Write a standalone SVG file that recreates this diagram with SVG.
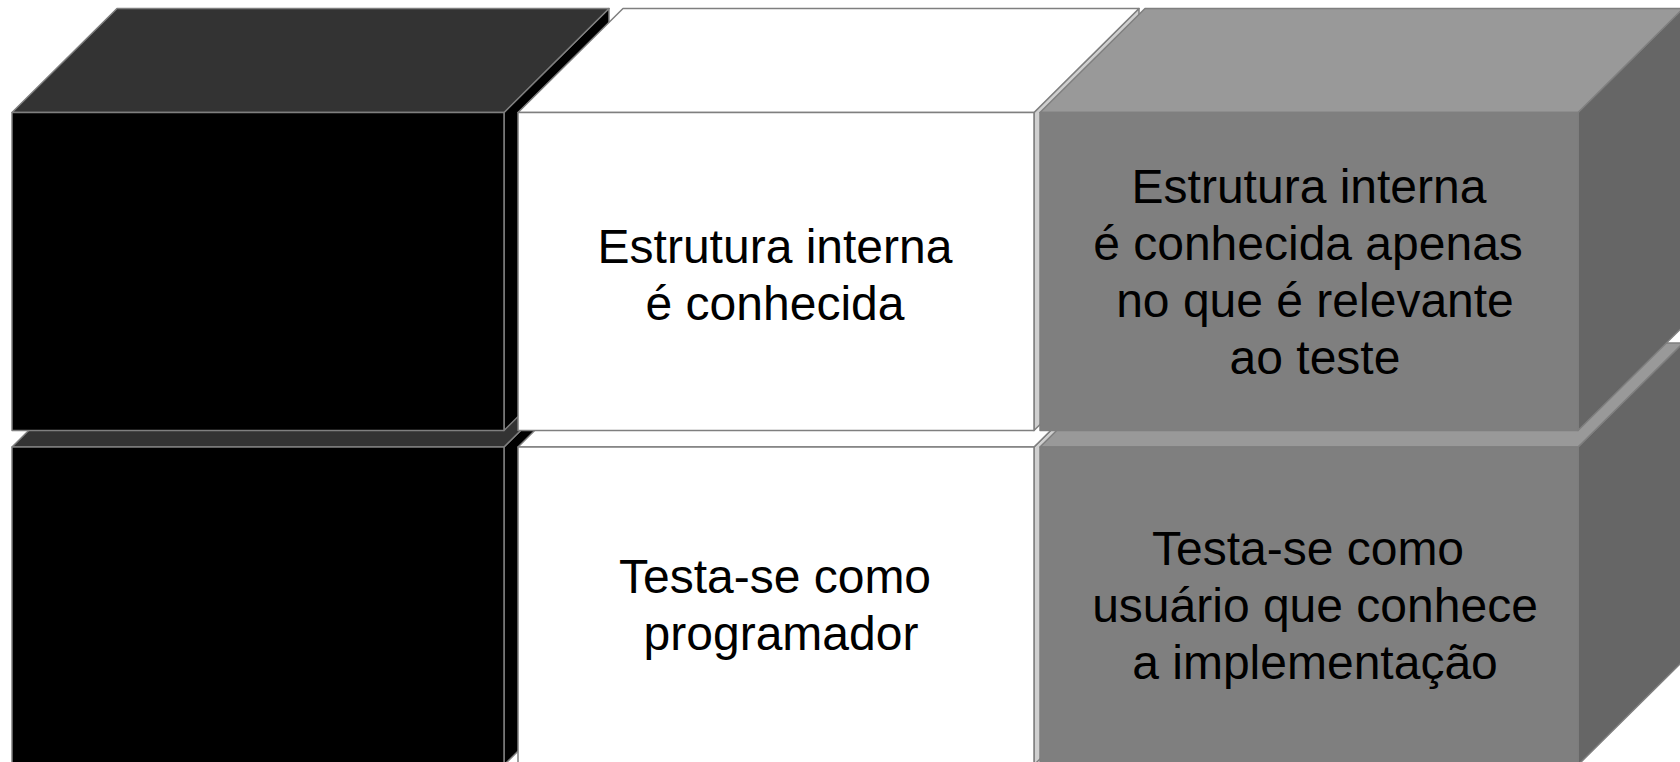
<svg xmlns="http://www.w3.org/2000/svg" width="1680" height="762" viewBox="0 0 1680 762">
<style>
.e{stroke:#7f7f7f;stroke-width:1.5;stroke-linejoin:round}
.bf{fill:#000}.bt{fill:#333}.bs{fill:#000}
.wf{fill:#fff}.wt{fill:#fff}.ws{fill:#cfcfcf}
.gf{fill:#7f7f7f}.gt{fill:#999}.gs{fill:#666}
text{font-family:"Liberation Sans",Arial,sans-serif;fill:#000;text-anchor:middle;font-size:48px}
</style>
<rect width="1680" height="762" fill="#fff"/>
<!-- Row 2 (drawn first, behind) -->
<g id="black-bottom">
<polygon class="e bs" points="504,447 609,343 609,661 504,765"/>
<polygon class="e bt" points="12,447 117,343 609,343 504,447"/>
<rect class="e bf" x="12" y="447" width="492" height="318"/>
</g>
<g id="white-bottom">
<polygon class="e ws" points="1034,447 1139,343 1139,661 1034,765"/>
<polygon class="e wt" points="518,447 623,343 1139,343 1034,447"/>
<rect class="e wf" x="518" y="447" width="516" height="318"/>
<text x="775" y="593">Testa-se como</text>
<text x="781" y="650">programador</text>
</g>
<g id="gray-bottom">
<polygon class="e gs" points="1578,447 1683,343 1683,661 1578,765"/>
<polygon class="e gt" points="1040,447 1145,343 1683,343 1578,447"/>
<rect class="e gf" x="1040" y="447" width="538" height="318"/>
<text x="1308" y="565">Testa-se como</text>
<text x="1315" y="622">usuário que conhece</text>
<text x="1315" y="679">a implementação</text>
</g>
<!-- Row 1 (front) -->
<g id="black-top">
<polygon class="e bs" points="504,112.5 609,8.5 609,326.5 504,430.5"/>
<polygon class="e bt" points="12,112.5 117,8.5 609,8.5 504,112.5"/>
<rect class="e bf" x="12" y="112.5" width="492" height="318"/>
</g>
<g id="white-top">
<polygon class="e ws" points="1034,112.5 1139,8.5 1139,326.5 1034,430.5"/>
<polygon class="e wt" points="518,112.5 623,8.5 1139,8.5 1034,112.5"/>
<rect class="e wf" x="518" y="112.5" width="516" height="318"/>
<text x="775" y="263">Estrutura interna</text>
<text x="775" y="320">é conhecida</text>
</g>
<g id="gray-top">
<polygon class="e gs" points="1578,112.5 1683,8.5 1683,326.5 1578,430.5"/>
<polygon class="e gt" points="1040,112.5 1145,8.5 1683,8.5 1578,112.5"/>
<rect class="e gf" x="1040" y="112.5" width="538" height="318"/>
<text x="1309" y="203">Estrutura interna</text>
<text x="1308" y="260">é conhecida apenas</text>
<text x="1315" y="317">no que é relevante</text>
<text x="1315" y="374">ao teste</text>
</g>
<g id="connectors"/>
</svg>
